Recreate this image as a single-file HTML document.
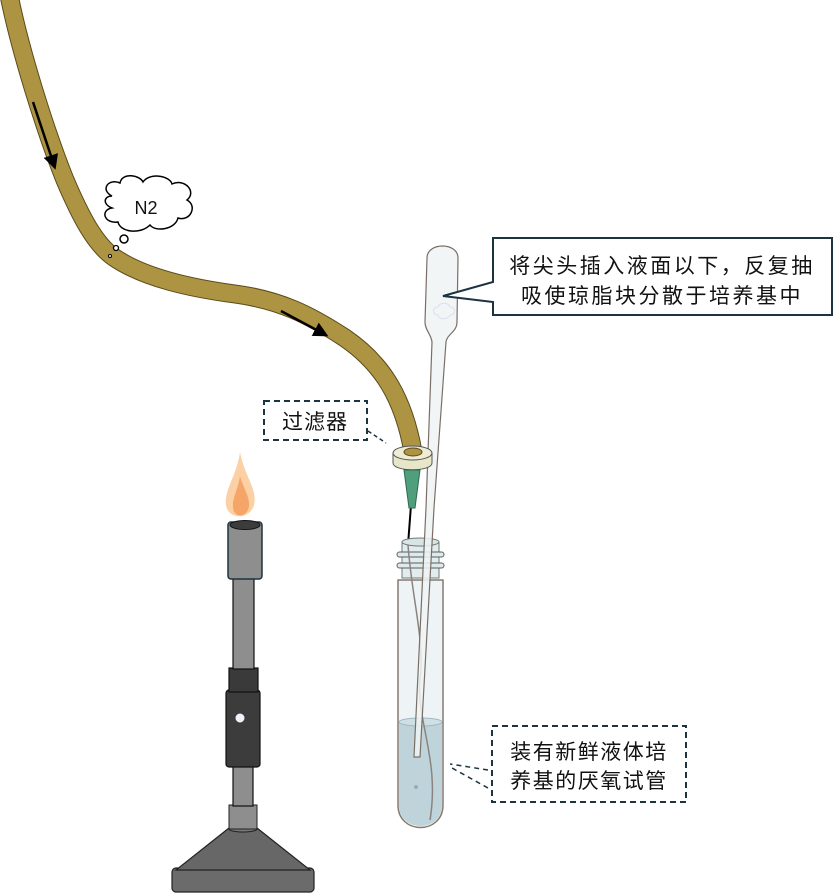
<!DOCTYPE html>
<html><head><meta charset="utf-8"><style>
html,body{margin:0;padding:0;background:#fff;}
svg{display:block;}
text{font-family:"Liberation Sans","Noto Sans CJK SC",sans-serif;fill:#111;}
</style></head><body>
<svg width="833" height="894" viewBox="0 0 833 894" xmlns="http://www.w3.org/2000/svg">
<defs>
<marker id="ah" markerWidth="6" markerHeight="6" refX="4" refY="3" orient="auto" markerUnits="strokeWidth"><path d="M0,0 L6,3 L0,6 z" fill="#000"/></marker>
</defs>
<!-- hose -->
<path d="M9,-5 C20,50 45,130 65,180 C80,215 95,245 115,258 C145,278 190,288 235,294 C280,300 310,315 345,338 C380,362 403,395 413,452" fill="none" stroke="#5a4a1a" stroke-width="19" stroke-linecap="butt"/>
<path d="M9,-5 C20,50 45,130 65,180 C80,215 95,245 115,258 C145,278 190,288 235,294 C280,300 310,315 345,338 C380,362 403,395 413,452" fill="none" stroke="#ac9442" stroke-width="17"/>
<line x1="33" y1="102" x2="54" y2="165" stroke="#000" stroke-width="2.5" marker-end="url(#ah)"/>
<line x1="281" y1="311" x2="324" y2="334" stroke="#000" stroke-width="2.5" marker-end="url(#ah)"/>
<!-- cloud -->
<path d="M112,196 C100,190 108,178 120,183 C122,172 140,175 143,182 C150,172 170,176 172,184 C185,178 197,192 187,200 C198,206 190,222 178,218 C175,230 155,232 150,225 C140,235 120,232 118,222 C104,224 100,210 112,208 C102,204 104,196 112,196 Z" fill="#fff" stroke="#000" stroke-width="1.5"/>
<text x="146" y="214" font-size="18" text-anchor="middle" fill="#333">N2</text>
<circle cx="124" cy="239" r="4" fill="#fff" stroke="#000" stroke-width="1.5"/>
<circle cx="116" cy="248" r="2.5" fill="#fff" stroke="#000" stroke-width="1.3"/>
<circle cx="110" cy="256" r="1.5" fill="#fff" stroke="#000" stroke-width="1"/>
<!-- filter label -->
<rect x="264" y="401" width="103" height="39" fill="#fff" stroke="#1c3340" stroke-width="2" stroke-dasharray="6,4"/>
<text x="315" y="429" font-size="21" text-anchor="middle" letter-spacing="1">过滤器</text>
<line x1="368" y1="431" x2="386" y2="443" stroke="#1c3340" stroke-width="1.5" stroke-dasharray="4,3"/>
<!-- needle -->
<line x1="411" y1="505" x2="408" y2="545" stroke="#000" stroke-width="2"/>
<path d="M404,470 L420,470 L415,508 L409,508 Z" fill="#4f9e7c" stroke="#2d6b50" stroke-width="1"/>
<!-- test tube -->
<path d="M398,580 L398,805 C398,835 443,835 443,805 L443,580 Z" fill="#eef4f6" stroke="#857a70" stroke-width="1.5"/>
<path d="M399,722 L399,805 C399,833 442,833 442,805 L442,722 Z" fill="#bfd3da"/>
<ellipse cx="420.5" cy="722" rx="21.5" ry="4" fill="#cfe0e5" stroke="#9fb9c2" stroke-width="1"/>
<circle cx="416" cy="787" r="2" fill="#8fb0bc"/>
<path d="M402,542 L402,578 L439,578 L439,542 Z" fill="#e2eced" stroke="#6d7a7a" stroke-width="1"/>
<ellipse cx="420.5" cy="542" rx="18.5" ry="4" fill="#d8e4e5" stroke="#6d7a7a" stroke-width="1"/>
<rect x="397" y="552" width="47" height="5" rx="2.5" fill="#dfe9ea" stroke="#55605f" stroke-width="1"/>
<rect x="397" y="563" width="47" height="5" rx="2.5" fill="#dfe9ea" stroke="#55605f" stroke-width="1"/>
<path d="M408,545 C412,600 425,640 420,680 C416,720 440,760 430,820" fill="none" stroke="#8a8480" stroke-width="1.5"/>
<!-- pipette -->
<path d="M427,258 C427,242 458,242 458,258 L457,322 C457,332 447,334 446,342 L434,508 L420,757 L414,757 L426,508 L432,342 C431,334 425,330 425,322 Z" fill="#eef3f5" fill-opacity="0.85" stroke="#7a6f66" stroke-width="1.2"/>
<path d="M438,307 c-6,0 -6,8 0,8 c0,5 10,5 12,0 c6,0 6,-8 0,-8 c-2,-5 -10,-5 -12,0z" fill="none" stroke="#dde" stroke-width="1"/>
<!-- filter disc -->
<path d="M393,453 L393,463 C393,472 432,472 432,463 L432,453 Z" fill="#e8e6c8" stroke="#555" stroke-width="1"/>
<ellipse cx="412.5" cy="453" rx="19.5" ry="7" fill="#eeecd4" stroke="#555" stroke-width="1"/>
<ellipse cx="413" cy="452" rx="9" ry="4" fill="#ac9442" stroke="#5a4a1a" stroke-width="1"/>
<!-- tube label -->
<rect x="492" y="726" width="194" height="76" fill="#fff" stroke="#1c3340" stroke-width="2" stroke-dasharray="6,4"/>
<text x="589" y="759" font-size="21" text-anchor="middle" letter-spacing="1.5">装有新鲜液体培</text>
<text x="589" y="788" font-size="21" text-anchor="middle" letter-spacing="1.5">养基的厌氧试管</text>
<line x1="488" y1="770" x2="450" y2="764" stroke="#1c3340" stroke-width="1.5" stroke-dasharray="5,4"/>
<line x1="488" y1="788" x2="452" y2="768" stroke="#1c3340" stroke-width="1.5" stroke-dasharray="5,4"/>
<!-- callout -->
<path d="M493,238 L832,238 L832,315 L493,315 L493,302 L443,296 L493,282 Z" fill="#fff" stroke="#1c3340" stroke-width="2"/>
<text x="662" y="273" font-size="21" text-anchor="middle" letter-spacing="2.5">将尖头插入液面以下，反复抽</text>
<text x="662" y="303" font-size="21" text-anchor="middle" letter-spacing="2.5">吸使琼脂块分散于培养基中</text>
<!-- flame -->
<path d="M240,452 C244,475 258,490 254,505 C250,520 228,520 226,505 C224,490 237,475 240,452 Z" fill="#fbd0a4"/>
<path d="M240,476 C244,490 252,500 248,510 C244,518 234,517 233,508 C232,498 238,490 240,476 Z" fill="#f5a567"/>
<!-- burner -->
<rect x="172" y="868" width="142" height="24" rx="4" fill="#6b6b6b" stroke="#222" stroke-width="1.2"/>
<path d="M229,828 L176,870 L310,870 L257,828 Z" fill="#676767" stroke="#222" stroke-width="1.2"/>
<ellipse cx="243" cy="829" rx="14" ry="3" fill="#777" stroke="#222" stroke-width="1"/>
<rect x="229" y="805" width="28" height="24" fill="#8e8e8e" stroke="#222" stroke-width="1"/>
<rect x="233" y="765" width="20" height="41" fill="#8e8e8e" stroke="#111" stroke-width="1.2"/>
<rect x="226" y="690" width="34" height="77" rx="3" fill="#3c3c3c" stroke="#111" stroke-width="1.2"/>
<rect x="229" y="668" width="29" height="24" fill="#3a3a3a" stroke="#111" stroke-width="1.2"/>
<circle cx="240" cy="718" r="4.5" fill="#eef3fa"/>
<rect x="233" y="578" width="21" height="91" fill="#8e8e8e" stroke="#111" stroke-width="1.2"/>
<rect x="228" y="522" width="34" height="57" rx="3" fill="#8e8e8e" stroke="#1c3340" stroke-width="1.5"/>
<ellipse cx="245" cy="525" rx="15" ry="4.5" fill="#3c3c3c" stroke="#111" stroke-width="1"/>
</svg>
</body></html>
